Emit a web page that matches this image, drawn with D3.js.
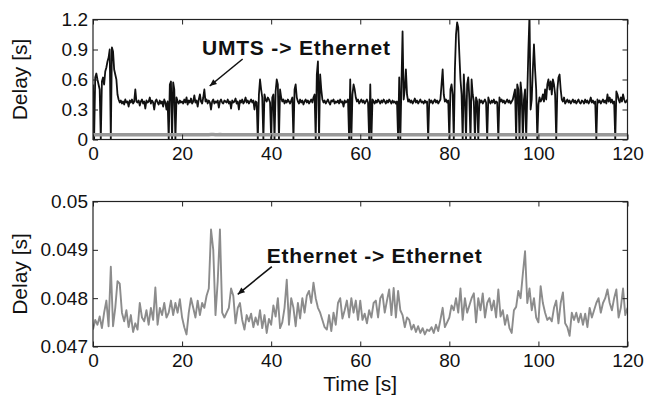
<!DOCTYPE html>
<html>
<head>
<meta charset="utf-8">
<script src="https://cdn.jsdelivr.net/npm/d3@7"></script>
<style>
  body { margin: 0; background: #fff; }
  svg { display: block; font-family: "Liberation Sans", Arial, Helvetica, sans-serif; }
</style>
</head>
<body>
<div id="chart"></div>
<script>
// sample spacing of the two traces (seconds)
var umtsStep = 0.25;
var ethStep = 0.5;

// UMTS -> Ethernet delay [s], one row = 5 s
var umtsDelay = [
  0.55, 0.0, 0.62, 0.66, 0.6, 0.55, 0.5, 0.0, 0.58, 0.62, 0.55, 0.68, 0.72, 0.78, 0.82, 0.9, 0.0, 0.92, 0.88, 0.7,
  0.65, 0.6, 0.45, 0.4, 0.37, 0.39, 0.36, 0.38, 0.35, 0.4, 0.37, 0.38, 0.33, 0.39, 0.37, 0.4, 0.36, 0.38, 0.5, 0.38,
  0.37, 0.39, 0.34, 0.38, 0.4, 0.36, 0.38, 0.31, 0.39, 0.37, 0.38, 0.42, 0.36, 0.39, 0.37, 0.3, 0.38, 0.4, 0.37, 0.35,
  0.39, 0.36, 0.38, 0.33, 0.4, 0.37, 0.3, 0.38, 0.0, 0.55, 0.58, 0.0, 0.57, 0.5, 0.0, 0.42, 0.38, 0.36, 0.39, 0.37,
  0.38, 0.36, 0.4, 0.37, 0.42, 0.35, 0.39, 0.37, 0.41, 0.36, 0.38, 0.44, 0.37, 0.39, 0.33, 0.4, 0.45, 0.38, 0.36, 0.42,
  0.5, 0.38, 0.4, 0.36, 0.39, 0.37, 0.3, 0.38, 0.4, 0.36, 0.38, 0.37, 0.39, 0.32, 0.38, 0.4, 0.37, 0.36, 0.39, 0.38,
  0.37, 0.4, 0.36, 0.38, 0.31, 0.39, 0.37, 0.38, 0.41, 0.36, 0.38, 0.3, 0.39, 0.37, 0.4, 0.36, 0.38, 0.42, 0.37, 0.39,
  0.36, 0.38, 0.4, 0.37, 0.39, 0.3, 0.38, 0.37, 0.0, 0.45, 0.6, 0.5, 0.42, 0.0, 0.45, 0.4, 0.38, 0.42, 0.4, 0.37,
  0.0, 0.42, 0.45, 0.0, 0.48, 0.6, 0.55, 0.0, 0.5, 0.42, 0.38, 0.4, 0.36, 0.39, 0.37, 0.4, 0.38, 0.36, 0.39, 0.42,
  0.0, 0.5, 0.55, 0.42, 0.38, 0.36, 0.4, 0.37, 0.39, 0.35, 0.38, 0.4, 0.37, 0.39, 0.36, 0.38, 0.4, 0.37, 0.42, 0.45,
  0.0, 0.65, 0.78, 0.0, 0.65, 0.5, 0.4, 0.37, 0.39, 0.36, 0.38, 0.4, 0.37, 0.35, 0.39, 0.38, 0.4, 0.36, 0.38, 0.37,
  0.39, 0.36, 0.4, 0.37, 0.38, 0.33, 0.39, 0.37, 0.38, 0.4, 0.0, 0.6, 0.0, 0.45, 0.55, 0.5, 0.42, 0.38, 0.4, 0.36,
  0.38, 0.4, 0.37, 0.39, 0.36, 0.38, 0.4, 0.37, 0.0, 0.55, 0.0, 0.4, 0.38, 0.36, 0.39, 0.37, 0.4, 0.38, 0.36, 0.39,
  0.37, 0.4, 0.38, 0.36, 0.39, 0.37, 0.4, 0.38, 0.36, 0.39, 0.37, 0.38, 0.36, 0.38, 0.0, 0.62, 0.0, 0.55, 1.08, 0.4,
  0.5, 0.7, 0.45, 0.38, 0.4, 0.37, 0.39, 0.36, 0.38, 0.41, 0.37, 0.39, 0.36, 0.38, 0.4, 0.37, 0.38, 0.36, 0.39, 0.37,
  0.38, 0.0, 0.4, 0.37, 0.39, 0.36, 0.38, 0.4, 0.37, 0.39, 0.36, 0.38, 0.4, 0.55, 0.7, 0.45, 0.38, 0.4, 0.37, 0.39,
  0.0, 0.5, 0.55, 0.45, 0.0, 0.7, 1.05, 1.17, 1.12, 0.85, 0.6, 0.45, 0.0, 0.65, 0.4, 0.0, 0.55, 0.62, 0.4, 0.0,
  0.6, 0.45, 0.38, 0.0, 0.42, 0.38, 0.0, 0.4, 0.37, 0.39, 0.36, 0.38, 0.4, 0.37, 0.0, 0.42, 0.38, 0.36, 0.39, 0.37,
  0.4, 0.36, 0.38, 0.37, 0.0, 0.42, 0.38, 0.4, 0.37, 0.39, 0.36, 0.38, 0.4, 0.37, 0.39, 0.36, 0.38, 0.4, 0.45, 0.5,
  0.0, 0.55, 0.5, 0.0, 0.57, 0.45, 0.0, 0.4, 0.5, 0.0, 0.45, 0.9, 1.25, 0.3, 0.4, 0.7, 0.95, 0.7, 0.5, 0.0,
  0.35, 0.42, 0.38, 0.4, 0.45, 0.38, 0.5, 0.4, 0.55, 0.6, 0.5, 0.58, 0.45, 0.6, 0.55, 0.45, 0.0, 0.5, 0.62, 0.65,
  0.5, 0.4, 0.38, 0.42, 0.36, 0.38, 0.4, 0.37, 0.39, 0.36, 0.38, 0.4, 0.37, 0.39, 0.36, 0.38, 0.4, 0.37, 0.36, 0.39,
  0.38, 0.36, 0.4, 0.37, 0.39, 0.36, 0.38, 0.42, 0.37, 0.39, 0.36, 0.38, 0.0, 0.4, 0.37, 0.39, 0.36, 0.38, 0.4, 0.37,
  0.39, 0.36, 0.45, 0.38, 0.42, 0.37, 0.4, 0.36, 0.38, 0.0, 0.48, 0.45, 0.4, 0.37, 0.42, 0.38, 0.45, 0.4, 0.37, 0.38,
  0.4
];

// Ethernet -> Ethernet delay [s], one row = 5 s
var ethDelay = [
  0.04735, 0.04755, 0.04745, 0.04762, 0.04738, 0.04770, 0.04795, 0.04742, 0.04865, 0.04742,
  0.04780, 0.04835, 0.04830, 0.04770, 0.04752, 0.04775, 0.04740, 0.04765, 0.04730, 0.04748,
  0.04735, 0.04790, 0.04760, 0.04752, 0.04775, 0.04745, 0.04780, 0.04755, 0.04822, 0.04745,
  0.04780, 0.04765, 0.04790, 0.04760, 0.04770, 0.04795, 0.04765, 0.04790, 0.04770, 0.04798,
  0.04760, 0.04740, 0.04725, 0.04770, 0.04800, 0.04780, 0.04760, 0.04795, 0.04765, 0.04790,
  0.04780, 0.04805, 0.04820, 0.04942, 0.04900, 0.04765, 0.04835, 0.04942, 0.04770, 0.04760,
  0.04770, 0.04780, 0.04820, 0.04805, 0.04748, 0.04780, 0.04790, 0.04755, 0.04735, 0.04765,
  0.04752, 0.04768, 0.04740, 0.04760, 0.04745, 0.04775, 0.04738, 0.04765, 0.04728, 0.04757,
  0.04745, 0.04785, 0.04762, 0.04800, 0.04738, 0.04750, 0.04780, 0.04838, 0.04745, 0.04800,
  0.04780, 0.04742, 0.04790, 0.04758, 0.04800, 0.04770, 0.04805, 0.04815, 0.04790, 0.04832,
  0.04800, 0.04780, 0.04770, 0.04755, 0.04740, 0.04735, 0.04765, 0.04732, 0.04770, 0.04745,
  0.04790, 0.04800, 0.04758, 0.04775, 0.04795, 0.04760, 0.04800, 0.04770, 0.04795, 0.04755,
  0.04795, 0.04755, 0.04768, 0.04748, 0.04775, 0.04760, 0.04790, 0.04795, 0.04760, 0.04800,
  0.04808, 0.04770, 0.04795, 0.04818, 0.04765, 0.04821, 0.04760, 0.04815, 0.04775, 0.04765,
  0.04740, 0.04760, 0.04755, 0.04735, 0.04745, 0.04730, 0.04742, 0.04728, 0.04738, 0.04725,
  0.04735, 0.04732, 0.04740, 0.04728, 0.04745, 0.04732, 0.04755, 0.04780, 0.04740, 0.04750,
  0.04760, 0.04785, 0.04775, 0.04800, 0.04770, 0.04820, 0.04755, 0.04800, 0.04770, 0.04785,
  0.04800, 0.04810, 0.04750, 0.04800, 0.04775, 0.04810, 0.04760, 0.04790, 0.04800, 0.04775,
  0.04795, 0.04760, 0.04818, 0.04762, 0.04775, 0.04745, 0.04765, 0.04738, 0.04728, 0.04775,
  0.04782, 0.04815, 0.04800, 0.04850, 0.04897, 0.04790, 0.04820, 0.04775, 0.04800, 0.04760,
  0.04750, 0.04825, 0.04790, 0.04770, 0.04755, 0.04760, 0.04752, 0.04780, 0.04795, 0.04748,
  0.04790, 0.04812, 0.04748, 0.04740, 0.04722, 0.04770, 0.04755, 0.04770, 0.04750, 0.04768,
  0.04745, 0.04768, 0.04740, 0.04780, 0.04760, 0.04775, 0.04790, 0.04800, 0.04770, 0.04790,
  0.04800, 0.04818, 0.04790, 0.04775, 0.04800, 0.04818, 0.04760, 0.04780, 0.04820, 0.04765,
  0.04780
];

var timeTicks = [0, 20, 40, 60, 80, 100, 120];
var topTicks = [0, 0.3, 0.6, 0.9, 1.2];
var topTickLabels = ['0', '0.3', '0.6', '0.9', '1.2'];
var bottomTicks = [0.047, 0.048, 0.049, 0.05];
var bottomTickLabels = ['0.047', '0.048', '0.049', '0.05'];

var W = 659, H = 397;
var svg = d3.select('#chart').append('svg').attr('width', W).attr('height', H);

var x = d3.scaleLinear().domain([0, 120]).range([93, 627.5]);
var yTop = d3.scaleLinear().domain([0, 1.2]).range([139.5, 19.5]);
var yBot = d3.scaleLinear().domain([0.047, 0.05]).range([346.5, 201.5]);

var umtsPts = umtsDelay.map(function (v, i) { return [i * umtsStep, v]; });
var ethPts = ethDelay.map(function (v, i) { return [i * ethStep, v]; });

function drawPanel(id, y, ticks, labels) {
  var g = svg.append('g').attr('class', 'panel-' + id);
  svg.append('clipPath').attr('id', 'clip-' + id)
    .append('rect')
    .attr('x', x.range()[0]).attr('y', y.range()[1])
    .attr('width', x.range()[1] - x.range()[0])
    .attr('height', y.range()[0] - y.range()[1]);

  var plot = g.append('g').attr('clip-path', 'url(#clip-' + id + ')');

  var fmt = function (d) { return labels[ticks.indexOf(d)]; };
  var bottom = d3.axisBottom(x).tickValues(timeTicks).tickSize(-5).tickPadding(7).tickFormat(d3.format('d'));
  var top = d3.axisTop(x).tickValues(timeTicks).tickSize(-5).tickFormat('');
  var left = d3.axisLeft(y).tickValues(ticks).tickSize(-5).tickPadding(5).tickFormat(fmt);
  var right = d3.axisRight(y).tickValues(ticks).tickSize(-5).tickFormat('');

  var axes = [
    g.append('g').attr('transform', 'translate(0,' + y.range()[0] + ')').call(bottom),
    g.append('g').attr('transform', 'translate(0,' + y.range()[1] + ')').call(top),
    g.append('g').attr('transform', 'translate(' + x.range()[0] + ',0)').call(left),
    g.append('g').attr('transform', 'translate(' + x.range()[1] + ',0)').call(right)
  ];
  axes.forEach(function (a) {
    a.select('.domain').remove();
    a.selectAll('line').attr('stroke', '#222');
    a.selectAll('text').attr('font-size', 19).attr('fill', '#111')
      .attr('font-family', '"Liberation Sans", Arial, sans-serif');
  });

  g.append('rect')
    .attr('x', x.range()[0]).attr('y', y.range()[1])
    .attr('width', x.range()[1] - x.range()[0])
    .attr('height', y.range()[0] - y.range()[1])
    .attr('fill', 'none').attr('stroke', '#222').attr('stroke-width', 1.2);

  g.append('text')
    .attr('transform', 'translate(27,' + (y.range()[0] + y.range()[1]) / 2 + ') rotate(-90)')
    .attr('text-anchor', 'middle')
    .attr('font-size', 21).attr('fill', '#111')
    .text('Delay [s]');

  return plot;
}

function arrow(g, x1, y1, x2, y2) {
  g.append('line')
    .attr('x1', x1).attr('y1', y1).attr('x2', x2).attr('y2', y2)
    .attr('stroke', '#111').attr('stroke-width', 1.6);
  var a = Math.atan2(y2 - y1, x2 - x1), L = 7, w = 3;
  var bx = x2 - L * Math.cos(a), by = y2 - L * Math.sin(a);
  g.append('path')
    .attr('d', 'M' + x2 + ',' + y2 +
      'L' + (bx + w * Math.sin(a)) + ',' + (by - w * Math.cos(a)) +
      'L' + (bx - w * Math.sin(a)) + ',' + (by + w * Math.cos(a)) + 'Z')
    .attr('fill', '#111');
}

// top panel
var topPlot = drawPanel('top', yTop, topTicks, topTickLabels);
var lineTop = d3.line().x(function (d) { return x(d[0]); }).y(function (d) { return yTop(d[1]); });

topPlot.append('path').datum(umtsPts)
  .attr('d', lineTop).attr('fill', 'none')
  .attr('stroke', '#111').attr('stroke-width', 1.8).attr('stroke-linejoin', 'round');

topPlot.append('path').datum(ethPts)
  .attr('d', lineTop).attr('fill', 'none')
  .attr('stroke', '#999').attr('stroke-width', 3.5);

var annTop = svg.append('g');
annTop.append('text')
  .attr('x', x(24.45)).attr('y', yTop(0.845))
  .attr('font-size', 21).attr('font-weight', 'bold').attr('fill', '#111')
  .attr('textLength', 188).attr('lengthAdjust', 'spacing')
  .text('UMTS -> Ethernet');
arrow(annTop, x(33.6), yTop(0.805), x(26.2), yTop(0.535));

// bottom panel
var botPlot = drawPanel('bot', yBot, bottomTicks, bottomTickLabels);
var lineBot = d3.line().x(function (d) { return x(d[0]); }).y(function (d) { return yBot(d[1]); });

botPlot.append('path').datum(ethPts)
  .attr('d', lineBot).attr('fill', 'none')
  .attr('stroke', '#8c8c8c').attr('stroke-width', 1.9).attr('stroke-linejoin', 'round');

var annBot = svg.append('g');
annBot.append('text')
  .attr('x', x(39.0)).attr('y', yBot(0.04872))
  .attr('font-size', 21).attr('font-weight', 'bold').attr('fill', '#111')
  .attr('textLength', 215).attr('lengthAdjust', 'spacing')
  .text('Ethernet -> Ethernet');
arrow(annBot, x(40.15), yBot(0.048655), x(32.5), yBot(0.04808));

svg.append('text')
  .attr('x', (x.range()[0] + x.range()[1]) / 2).attr('y', 391)
  .attr('text-anchor', 'middle').attr('font-size', 21).attr('fill', '#111')
  .text('Time [s]');
</script>
</body>
</html>
